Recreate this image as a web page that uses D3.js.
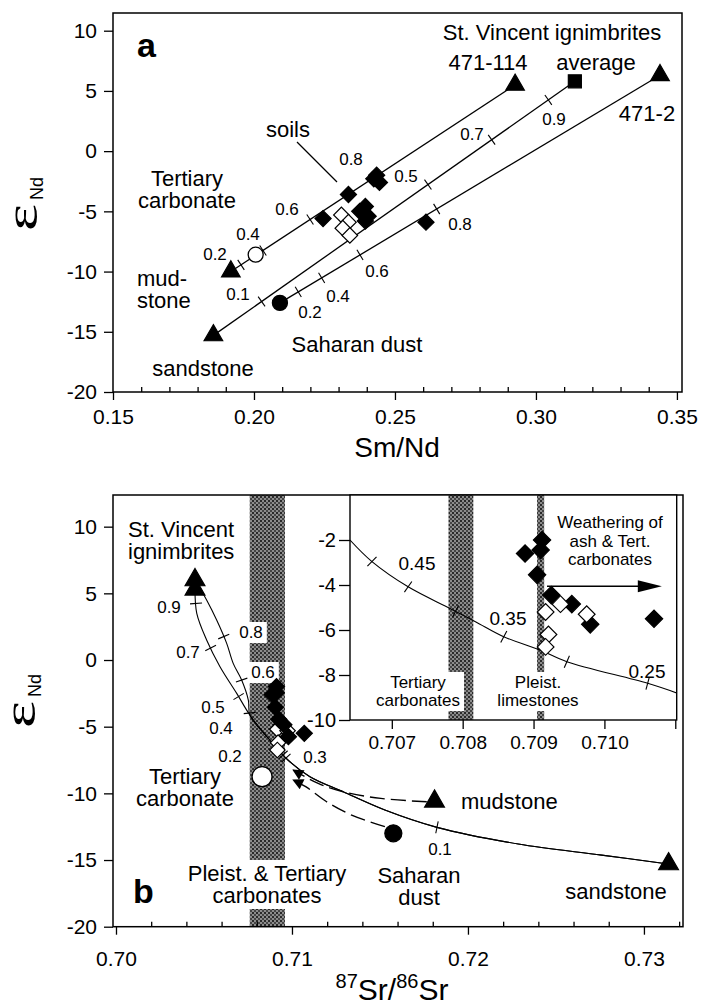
<!DOCTYPE html>
<html>
<head>
<meta charset="utf-8">
<script src="https://cdn.jsdelivr.net/npm/d3@7"></script>
<style>
body { margin: 0; background: #fff; }
svg { font-family: "Liberation Sans", Arial, Helvetica, sans-serif; }
</style>
</head>
<body>
<svg id="fig" width="703" height="1006"></svg>
<script>
// ---------- panel a : Sm/Nd vs eNd ----------
const smndTicks = [0.15, 0.20, 0.25, 0.30, 0.35];
const smndMinor = [0.16, 0.17, 0.18, 0.19, 0.21, 0.22, 0.23, 0.24, 0.26, 0.27, 0.28, 0.29, 0.31, 0.32, 0.33, 0.34];
const endTicks = [10, 5, 0, -5, -10, -15, -20];

// end-members [Sm/Nd, eNd]
const ign114A = [0.2926, 5.5];
const ign2A = [0.3440, 6.3];
const ignAvgA = [0.3138, 5.8];
const mudstoneA = [0.1918, -10.0];
const sandstoneA = [0.1856, -15.3];
const tertCarbA = [0.2006, -8.6];
const dustA = [0.2092, -12.6];

const soilsFilledA = [[0.2245, -5.6], [0.2335, -3.6], [0.2425, -2.3], [0.2445, -2.6], [0.2435, -2.0],
  [0.2375, -5.0], [0.2395, -4.6], [0.2405, -5.4], [0.2395, -5.8], [0.2610, -5.9]];
const soilsOpenA = [[0.2310, -5.3], [0.2335, -5.9], [0.2315, -6.4], [0.2340, -7.0]];

// mixing lines, tick marks given by their Sm/Nd value
const mixA = [
  { from: mudstoneA, to: ign114A, ticks: [0.1954, 0.2032, 0.2199, 0.2429] },
  { from: sandstoneA, to: ignAvgA, ticks: [0.2027, 0.2617, 0.2843, 0.3044] },
  { from: dustA, to: ign2A, ticks: [0.2157, 0.2240, 0.2376, 0.2648] }
];

// ---------- panel b : 87Sr/86Sr vs eNd ----------
const srTicks = [0.70, 0.71, 0.72, 0.73];
const srMinor = [0.702, 0.704, 0.706, 0.708, 0.712, 0.714, 0.716, 0.718, 0.722, 0.724, 0.726, 0.728, 0.732];

const ign114B = [0.70449, 5.3];
const ign2B = [0.70449, 6.0];
const mudstoneB = [0.7181, -10.6];
const sandstoneB = [0.7314, -15.3];
const tertCarbB = [0.7083, -8.75];
const dustB = [0.71576, -13.0];
const carbBand = [0.7076, 0.7096];

const soilsFilledB = [[0.70912, -2.0], [0.70888, -2.6], [0.70910, -2.45], [0.70905, -3.55], [0.70925, -4.45],
  [0.70954, -4.85], [0.70980, -5.75], [0.71070, -5.5]];
const soilsOpenB = [[0.70938, -4.85], [0.70917, -5.2], [0.70975, -5.3], [0.70921, -6.2], [0.70917, -6.75]];

// mixing curves sandstone -> ignimbrites
const lowerLeg = [[0.73138, -15.3], [0.72760, -14.63], [0.72286, -13.80], [0.71824, -12.55], [0.71528, -11.25],
  [0.71291, -9.88], [0.71102, -8.75], [0.70977, -7.50], [0.70864, -5.85], [0.70761, -4.13]];
const upperLeg114 = [[0.70686, -2.5], [0.70591, -0.5], [0.70515, 1.5], [0.70459, 3.5], [0.70449, 5.3]];
const upperLeg2 = [[0.70752, -3.0], [0.70714, -1.5], [0.70666, -0.25], [0.70629, 1.25], [0.70572, 3.0], [0.70515, 4.5], [0.70449, 6.0]];
const ticks114 = [[0.71824, -12.55], [0.70972, -7.28], [0.70695, -2.75], [0.70553, 1.0], [0.70459, 4.25]];
const ticks2 = [[0.70955, -7.05], [0.70756, -3.98], [0.70714, -1.5], [0.7061, 1.75]];

// dashed arrows towards the carbonate
const mudArrow = [[0.71766, -10.63], [0.71505, -10.38], [0.71291, -9.88], [0.71149, -9.25], [0.71007, -8.25]];
const dustArrow = [[0.71528, -12.5], [0.71339, -11.63], [0.71197, -10.63], [0.71078, -9.5], [0.71007, -9.0]];

// ---------- inset ----------
const insetX = [0.707, 0.708, 0.709, 0.710, 0.711];
const insetY = [-2, -4, -6, -8, -10];
const tertBand = [0.7078, 0.70815];
const pleistBand = [0.70905, 0.70915];
const insetCurve = [[0.70641, -2.0], [0.70672, -2.96], [0.70723, -4.08], [0.70782, -5.04], [0.70818, -5.63],
  [0.70858, -6.30], [0.70909, -6.89], [0.70947, -7.41], [0.71061, -8.37], [0.71103, -8.81]];
const insetTicks = [0.70672, 0.70723, 0.70790, 0.70858, 0.70947, 0.71061];
const weatherArrow = [[0.70919, -4.05], [0.71081, -4.05]];

// ---------- scales ----------
const xA = d3.scaleLinear().domain([0.15, 0.3518]).range([113, 682]);
const yA = d3.scaleLinear().domain([-20, 11.47]).range([392, 13]);
const xB = d3.scaleLinear().domain([0.69983, 0.73222]).range([113, 683]);
const yB = d3.scaleLinear().domain([-20, 12.375]).range([926.7, 495]);
const xI = d3.scaleLinear().domain([0.70641, 0.71102]).range([350, 676.7]);
const yI = d3.scaleLinear().domain([-10, 0]).range([720, 495]);

const svg = d3.select("#fig");
const defs = svg.append("defs");

const pat = defs.append("pattern").attr("id", "stip")
  .attr("width", 4).attr("height", 4).attr("patternUnits", "userSpaceOnUse");
pat.append("rect").attr("width", 4).attr("height", 4).attr("fill", "#8c8c8c");
pat.append("rect").attr("width", 2).attr("height", 2).attr("fill", "#2a2a2a");
pat.append("rect").attr("x", 2).attr("y", 2).attr("width", 2).attr("height", 2).attr("fill", "#454545");

defs.append("marker").attr("id", "ah")
  .attr("viewBox", "0 0 10 10").attr("refX", 9).attr("refY", 5)
  .attr("markerWidth", 18).attr("markerHeight", 11)
  .attr("markerUnits", "userSpaceOnUse").attr("orient", "auto")
  .append("path").attr("d", "M0,0 L10,5 L0,10 Z").attr("fill", "#000");

defs.append("clipPath").attr("id", "clipI")
  .append("rect").attr("x", 350).attr("y", 495).attr("width", 326.7).attr("height", 225);

// ---------- helpers ----------
function tickMark(g, pts, p, len) {
  let best = null;
  for (let i = 0; i < pts.length - 1; i++) {
    const [x1, y1] = pts[i], [x2, y2] = pts[i + 1];
    const dx = x2 - x1, dy = y2 - y1, L2 = dx * dx + dy * dy;
    if (!L2) continue;
    let t = ((p[0] - x1) * dx + (p[1] - y1) * dy) / L2;
    t = Math.max(0, Math.min(1, t));
    const qx = x1 + t * dx, qy = y1 + t * dy;
    const d = (qx - p[0]) ** 2 + (qy - p[1]) ** 2;
    if (!best || d < best.d) best = { d, qx, qy, dx, dy };
  }
  const L = Math.hypot(best.dx, best.dy);
  const nx = -best.dy / L * len / 2, ny = best.dx / L * len / 2;
  g.append("line")
    .attr("x1", best.qx - nx).attr("y1", best.qy - ny)
    .attr("x2", best.qx + nx).attr("y2", best.qy + ny)
    .attr("stroke", "#000").attr("stroke-width", 1.1);
}

function interpY(points, x) {
  for (let i = 0; i < points.length - 1; i++) {
    const [x1, y1] = points[i], [x2, y2] = points[i + 1];
    if (x >= x1 && x <= x2) return y1 + (x - x1) / (x2 - x1) * (y2 - y1);
  }
  return points[points.length - 1][1];
}

function label(g, x, y, lines, size, anchor = "middle", opts = {}) {
  const lh = opts.lh || size;
  const t = g.append("text").attr("x", x).attr("y", y)
    .attr("font-size", size).attr("text-anchor", anchor).attr("fill", "#000");
  if (opts.bold) t.attr("font-weight", "bold");
  lines.forEach((s, i) => t.append("tspan").attr("x", x).attr("dy", i ? lh : 0).text(s));
  if (opts.bg) {
    const b = t.node().getBBox();
    const p = opts.pad || 3;
    g.insert("rect", () => t.node())
      .attr("x", b.x - p).attr("y", b.y - 1).attr("width", b.width + 2 * p).attr("height", b.height + 2)
      .attr("fill", "#fff");
  }
  return t;
}

const sym = (type, size) => d3.symbol().type(type).size(size)();

function marks(g, x, y, data, kind, size) {
  const sel = g.append("g").selectAll("path").data(data).join("path");
  if (kind === "diamond" || kind === "odiamond") {
    sel.attr("d", sym(d3.symbolSquare, size))
      .attr("transform", d => `translate(${x(d[0])},${y(d[1])}) rotate(45)`);
  } else {
    sel.attr("d", sym(kind === "square" ? d3.symbolSquare : d3.symbolTriangle, size))
      .attr("transform", d => `translate(${x(d[0])},${y(d[1])})`);
  }
  sel.attr("fill", kind === "odiamond" ? "#fff" : "#000")
    .attr("stroke", "#000").attr("stroke-width", 1.2);
}

function circle(g, x, y, d, r, open) {
  g.append("circle").attr("cx", x(d[0])).attr("cy", y(d[1])).attr("r", r)
    .attr("fill", open ? "#fff" : "#000").attr("stroke", "#000").attr("stroke-width", 1.3);
}

function styleAxis(sel, fs) {
  sel.attr("font-size", fs).attr("font-family", null);
  sel.select(".domain").remove();
  sel.selectAll("line").attr("stroke", "#000").attr("stroke-width", 1.3);
  sel.selectAll("text").attr("fill", "#000");
}

function frame(g, x, y, o) {
  const [l, t, r, b] = o.box;
  const bx = g.append("g").attr("transform", `translate(0,${b})`)
    .call(d3.axisBottom(x).tickValues(o.xt).tickSize(8).tickPadding(o.xpad).tickFormat(o.xfmt));
  styleAxis(bx, o.fs);
  if (o.xminor) {
    const mx = g.append("g").attr("transform", `translate(0,${b})`)
      .call(d3.axisBottom(x).tickValues(o.xminor).tickSize(-5).tickFormat(""));
    styleAxis(mx, o.fs);
  }
  const ly = g.append("g").attr("transform", `translate(${l},0)`)
    .call(d3.axisLeft(y).tickValues(o.yt).tickSize(o.ytick || 9).tickPadding(o.ypad).tickFormat(d => String(d)));
  styleAxis(ly, o.fs);
  g.append("rect").attr("x", l).attr("y", t).attr("width", r - l).attr("height", b - t)
    .attr("fill", "none").attr("stroke", "#000").attr("stroke-width", 1.5);
}

function epsTitle(x, y) {
  svg.append("text").attr("transform", `translate(${x},${y}) rotate(-90) scale(1.4,1)`)
    .attr("font-family", '"Liberation Serif", "DejaVu Serif", serif').attr("font-size", 46).text("ε");
  svg.append("text").attr("transform", `translate(${x + 6},${y - 31}) rotate(-90)`)
    .attr("font-size", 18).text("Nd");
}

// ================= PANEL A =================
const gA = svg.append("g");
const lineA = d3.line().x(d => xA(d[0])).y(d => yA(d[1]));

mixA.forEach(m => {
  gA.append("path").attr("d", lineA([m.from, m.to]))
    .attr("fill", "none").attr("stroke", "#000").attr("stroke-width", 1.3);
  const pts = [m.from, m.to].map(p => [xA(p[0]), yA(p[1])]);
  m.ticks.forEach(tx => tickMark(gA, pts, [xA(tx), yA(interpY([m.from, m.to], tx))], 12));
});

// soils leader
gA.append("line").attr("x1", 297).attr("y1", 142).attr("x2", 337).attr("y2", 182)
  .attr("stroke", "#000").attr("stroke-width", 1.2);

marks(gA, xA, yA, soilsOpenA, "odiamond", 120);
marks(gA, xA, yA, soilsFilledA, "diamond", 130);
marks(gA, xA, yA, [ign114A, ign2A, mudstoneA, sandstoneA], "triangle", 150);
marks(gA, xA, yA, [ignAvgA], "square", 170);
circle(gA, xA, yA, tertCarbA, 7.5, true);
circle(gA, xA, yA, dustA, 7.5, false);

frame(gA, xA, yA, {
  box: [113, 13, 682, 392], xt: smndTicks, xminor: smndMinor, yt: endTicks,
  xfmt: d3.format(".2f"), fs: 21, xpad: 9, ypad: 7
});

label(gA, 137, 57, ["a"], 34, "start", { bold: true });
label(gA, 552, 40, ["St. Vincent ignimbrites"], 22);
label(gA, 488, 70, ["471-114"], 22);
label(gA, 596, 70, ["average"], 22);
label(gA, 647, 121, ["471-2"], 22);
label(gA, 288, 137, ["soils"], 22);
label(gA, 187, 186, ["Tertiary", "carbonate"], 22, "middle", { lh: 22 });
label(gA, 137, 286, ["mud-", "stone"], 22, "start", { lh: 22 });
label(gA, 203, 376, ["sandstone"], 22);
label(gA, 357, 352, ["Saharan dust"], 22);

[["0.2", 215, 260], ["0.4", 248, 240], ["0.6", 287, 215], ["0.8", 351, 165],
 ["0.1", 238, 300], ["0.5", 406, 182], ["0.7", 472, 140], ["0.9", 554, 125],
 ["0.2", 310, 318], ["0.4", 338, 302], ["0.6", 377, 277], ["0.8", 460, 230]]
  .forEach(([s, x, y]) => label(gA, x, y, [s], 17));

label(svg, 397, 457, ["Sm/Nd"], 28);
epsTitle(37, 231);

// ================= PANEL B =================
const gB = svg.append("g");
const curveB = d3.line().x(d => xB(d[0])).y(d => yB(d[1])).curve(d3.curveCatmullRom);

gB.append("rect")
  .attr("x", xB(carbBand[0])).attr("y", 495)
  .attr("width", xB(carbBand[1]) - xB(carbBand[0])).attr("height", 926.7 - 495)
  .attr("fill", "url(#stip)");

label(gB, 251, 638, ["0.8"], 17, "middle", { bg: true, pad: 4 });
label(gB, 263, 678, ["0.6"], 17, "middle", { bg: true, pad: 4 });
label(gB, 267, 881, ["Pleist. & Tertiary", "carbonates"], 22, "middle", { bg: true, lh: 22, pad: 2 });

[lowerLeg.concat(upperLeg114), lowerLeg.concat(upperLeg2)].forEach((c, i) => {
  gB.append("path").attr("d", curveB(c))
    .attr("fill", "none").attr("stroke", "#000").attr("stroke-width", 1.1);
  const pts = c.map(p => [xB(p[0]), yB(p[1])]);
  (i ? ticks2 : ticks114).forEach(t => tickMark(gB, pts, [xB(t[0]), yB(t[1])], 12));
});

[mudArrow, dustArrow].forEach(a => {
  gB.append("path").attr("d", curveB(a))
    .attr("fill", "none").attr("stroke", "#000").attr("stroke-width", 1.4)
    .attr("stroke-dasharray", "15,6").attr("marker-end", "url(#ah)");
});

marks(gB, xB, yB, soilsOpenB, "odiamond", 120);
marks(gB, xB, yB, soilsFilledB, "diamond", 130);
marks(gB, xB, yB, [ign114B, ign2B, mudstoneB, sandstoneB], "triangle", 170);
circle(gB, xB, yB, tertCarbB, 10, true);
circle(gB, xB, yB, dustB, 8.5, false);

[["0.9", 169, 613], ["0.7", 188, 658], ["0.5", 213, 713], ["0.4", 221, 734],
 ["0.2", 230, 762], ["0.3", 315, 763], ["0.1", 440, 855]]
  .forEach(([s, x, y]) => label(gB, x, y, [s], 17));

label(gB, 128, 537, ["St. Vincent", "ignimbrites"], 22, "start", { lh: 22 });
label(gB, 185, 784, ["Tertiary", "carbonate"], 22, "middle", { lh: 22 });
label(gB, 461, 809, ["mudstone"], 22, "start");
label(gB, 419, 883, ["Saharan", "dust"], 22, "middle", { lh: 22 });
label(gB, 616, 899, ["sandstone"], 22);
label(gB, 133, 903, ["b"], 34, "start", { bold: true });

// ---------- inset ----------
const gI = svg.append("g");
gI.append("rect").attr("x", 350).attr("y", 495).attr("width", 326.7).attr("height", 225).attr("fill", "#fff");
const gIc = gI.append("g").attr("clip-path", "url(#clipI)");
[tertBand, pleistBand].forEach(bd => {
  gIc.append("rect").attr("x", xI(bd[0])).attr("y", 495)
    .attr("width", xI(bd[1]) - xI(bd[0])).attr("height", 225).attr("fill", "url(#stip)");
});
label(gI, 418, 688, ["Tertiary", "carbonates"], 17, "middle", { bg: true, lh: 18, pad: 4 });
label(gI, 538, 688, ["Pleist.", "limestones"], 17, "middle", { bg: true, lh: 18, pad: 4 });

const lineI = d3.line().x(d => xI(d[0])).y(d => yI(d[1])).curve(d3.curveCatmullRom);
gIc.append("path").attr("d", lineI(insetCurve))
  .attr("fill", "none").attr("stroke", "#000").attr("stroke-width", 1.1);
const ptsI = insetCurve.map(p => [xI(p[0]), yI(p[1])]);
insetTicks.forEach(tx => tickMark(gIc, ptsI, [xI(tx), yI(interpY(insetCurve, tx))], 13));

marks(gI, xI, yI, soilsFilledB, "diamond", 150);
marks(gI, xI, yI, soilsOpenB, "odiamond", 140);

gI.append("line")
  .attr("x1", xI(weatherArrow[0][0])).attr("y1", yI(weatherArrow[0][1]))
  .attr("x2", xI(weatherArrow[1][0]) - 18).attr("y2", yI(weatherArrow[1][1]))
  .attr("stroke", "#000").attr("stroke-width", 1.5);
{
  const tx = xI(weatherArrow[1][0]), ty = yI(weatherArrow[1][1]);
  gI.append("path").attr("d", `M${tx},${ty} L${tx - 24},${ty - 6} L${tx - 24},${ty + 6} Z`).attr("fill", "#000");
}

label(gI, 610, 528, ["Weathering of", "ash & Tert.", "carbonates"], 17, "middle", { lh: 18.5 });
label(gI, 417, 570, ["0.45"], 19);
label(gI, 508, 625, ["0.35"], 19);
label(gI, 647, 678, ["0.25"], 19);

const ix = gI.append("g").attr("transform", "translate(0,720)")
  .call(d3.axisBottom(xI).tickValues(insetX).tickSize(9).tickPadding(7)
    .tickFormat(d => d < 0.7105 ? d3.format(".3f")(d) : ""));
styleAxis(ix, 19);
const iy = gI.append("g").attr("transform", "translate(350,0)")
  .call(d3.axisLeft(yI).tickValues(insetY).tickSize(11).tickPadding(3).tickFormat(d => String(d)));
styleAxis(iy, 20);
gI.append("rect").attr("x", 350).attr("y", 495).attr("width", 326.7).attr("height", 225)
  .attr("fill", "none").attr("stroke", "#000").attr("stroke-width", 1.4);

frame(gB, xB, yB, {
  box: [113, 495, 683, 926.7], xt: srTicks, xminor: srMinor, yt: endTicks,
  xfmt: d3.format(".2f"), fs: 21, xpad: 16, ypad: 7
});

// x title 87Sr/86Sr
{
  const t = svg.append("text").attr("x", 392).attr("y", 1000).attr("text-anchor", "middle").attr("font-size", 30);
  t.append("tspan").attr("font-size", 20).attr("dy", -12).text("87");
  t.append("tspan").attr("dy", 12).text("Sr/");
  t.append("tspan").attr("font-size", 20).attr("dy", -12).text("86");
  t.append("tspan").attr("dy", 12).text("Sr");
}
epsTitle(35, 728);
</script>
</body>
</html>
